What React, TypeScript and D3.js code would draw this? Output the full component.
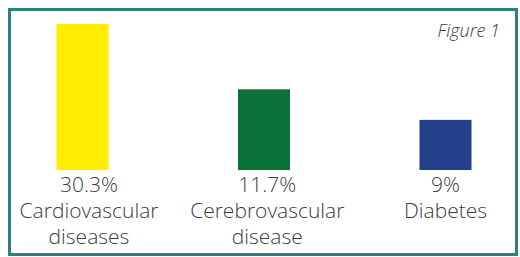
import React, { useEffect } from "react";
import * as d3 from "d3";

const categories = ["Cardiovascular diseases", "Cerebrovascular disease", "Diabetes"];
const labelLines = [["Cardiovascular", "diseases"], ["Cerebrovascular", "disease"], ["Diabetes"]];
const percentLabels = ["30.3%", "11.7%", "9%"];
// bar lengths as drawn in the figure (not proportional to the printed percentages)
const drawnValues = [30.3, 16.75, 10.4];
const colors = ["#FFED00", "#0B733A", "#233F8C"];
const figureTitle = "Figure 1";

const W = 520;
const H = 257;
const FONT = "'Open Sans', 'Noto Sans', sans-serif";
const TEXT = "#3c3c3c";

export default function App() {
  useEffect(() => {
    document.body.style.margin = "0";
  }, []);

  const x = d3.scalePoint<string>().domain(categories).range([82.5, 445.5]);
  const xl = d3.scalePoint<string>().domain(categories).range([89, 445.5]);
  const y = d3.scaleLinear().domain([0, 30.3]).range([170, 24]);
  const barW = 52;

  return (
    <svg width={W} height={H} style={{ display: "block" }} fontFamily={FONT}>
      <rect x={0} y={0} width={W} height={H} fill="#ffffff" />
      <rect x={9.5} y={9.5} width={507} height={245} fill="#ffffff" stroke="#2E8080" strokeWidth={3} />
      <text x={500} y={37} textAnchor="end" fontSize={18} fontStyle="italic" fontWeight={300} fill={TEXT}>
        {figureTitle}
      </text>
      {categories.map((c, i) => (
        <rect
          key={c}
          x={(x(c) as number) - barW / 2}
          y={y(drawnValues[i])}
          width={barW}
          height={y(0) - y(drawnValues[i])}
          fill={colors[i]}
        />
      ))}
      {categories.map((c, i) => (
        <text key={c + "-t"} textAnchor="middle" fontSize={21} fontWeight={300} fill={TEXT}>
          <tspan x={xl(c) as number} y={192}>{percentLabels[i]}</tspan>
          {labelLines[i].map((l, j) => (
            <tspan key={j} x={xl(c) as number} y={218 + j * 25.5}>{l}</tspan>
          ))}
        </text>
      ))}
    </svg>
  );
}
